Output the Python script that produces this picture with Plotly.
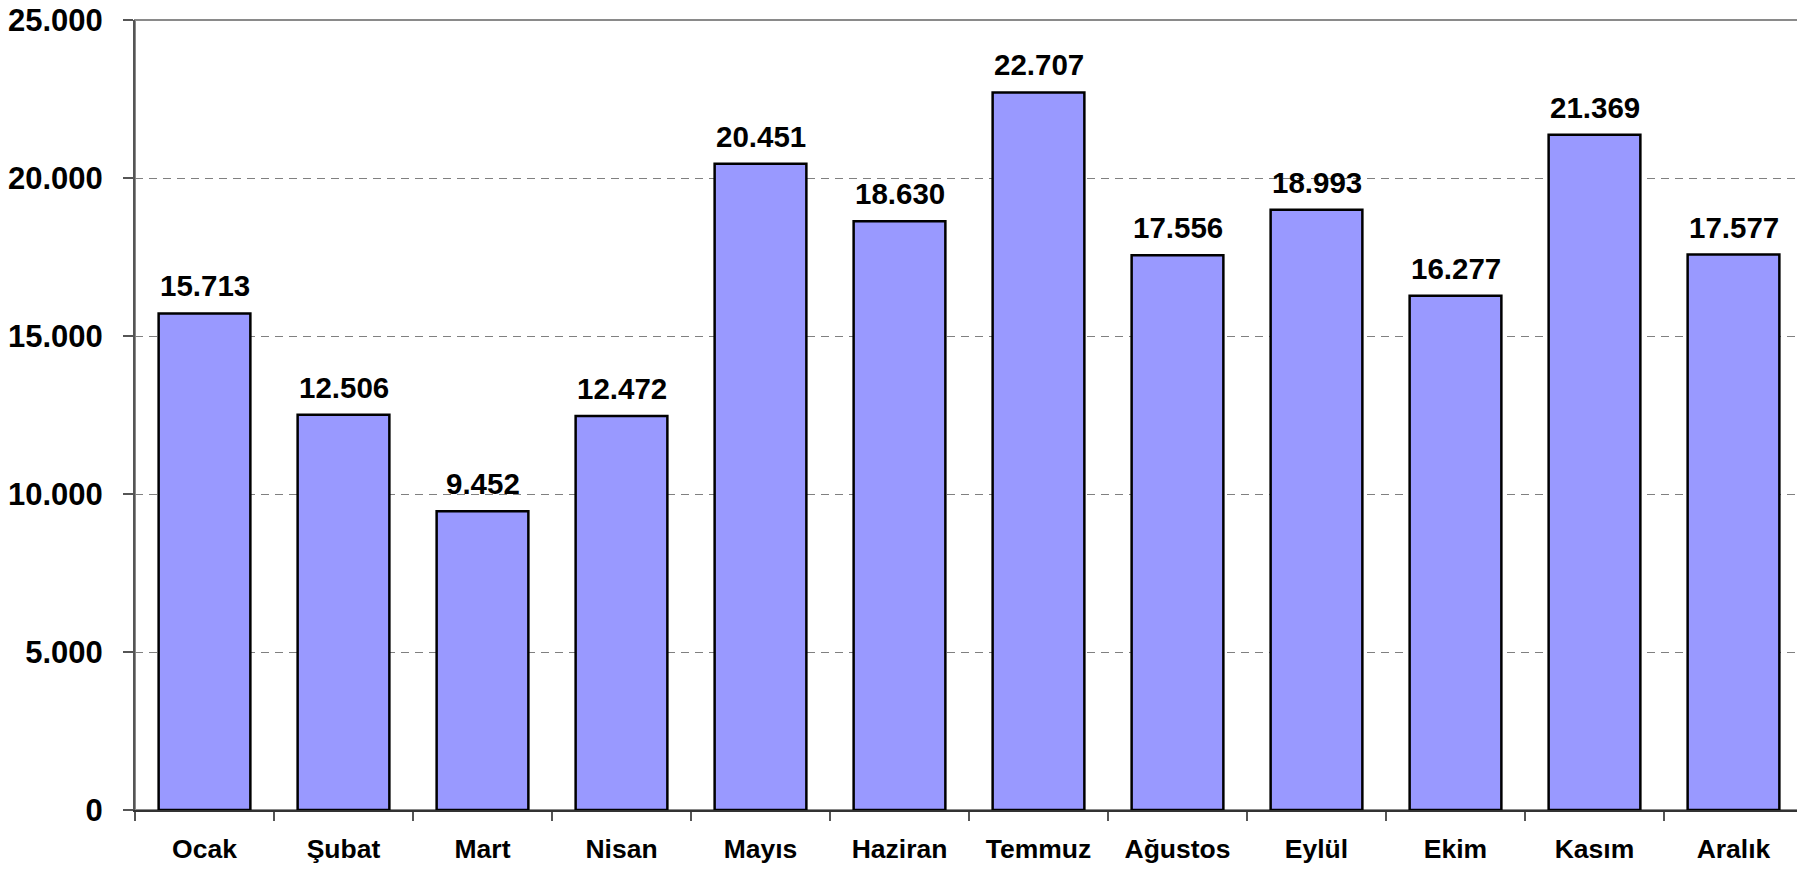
import plotly.graph_objects as go

months = ["Ocak", "Şubat", "Mart", "Nisan", "Mayıs", "Haziran", "Temmuz",
          "Ağustos", "Eylül", "Ekim", "Kasım", "Aralık"]
values = [15713, 12506, 9452, 12472, 20451, 18630, 22707,
          17556, 18993, 16277, 21369, 17577]
y_ticks = [0, 5000, 10000, 15000, 20000, 25000]

FONT = "Arial, 'Liberation Sans', sans-serif"

fig = go.Figure()
fig.add_trace(go.Bar(
    x=months, y=values,
    marker=dict(color="#9999FF", line=dict(color="#000000", width=2.5)),
    width=0.66,
    hoverinfo="x+y",
))

annotations = []
for m, v in zip(months, values):
    annotations.append(dict(
        x=m, y=v, xref="x", yref="y",
        text=f"{v:,}".replace(",", "."),
        showarrow=False, yanchor="bottom", yshift=9,
        font=dict(family=FONT, size=29.5, color="#000000", weight="bold"),
    ))

# page body has an 8px margin: figure is sized/positioned to compensate
fig.update_layout(
    width=1797, height=862,
    margin=dict(l=127, r=2, t=12, b=60),
    paper_bgcolor="white", plot_bgcolor="white",
    separators=",.",
    showlegend=False,
    bargap=0.34,
    annotations=annotations,
    shapes=[dict(type="rect", xref="paper", yref="paper", x0=0, y0=0, x1=1, y1=1,
                 line=dict(color="#8a8a8a", width=2), layer="below")],
    xaxis=dict(
        automargin=False,
        tickson="boundaries", ticks="outside", ticklen=9, tickcolor="#555555", tickwidth=1.5,
        showline=True, linecolor="#333333", linewidth=2,
        showgrid=False,
        tickfont=dict(family=FONT, size=26.5, color="#000000", weight="bold"),
        ticklabelstandoff=14,
        ticklabeloverflow="allow",
    ),
    yaxis=dict(
        automargin=False,
        range=[0, 25000], tickvals=y_ticks, tickformat=",d",
        ticks="outside", ticklen=10, tickcolor="#555555", tickwidth=1.5,
        showline=True, linecolor="#555555", linewidth=2,
        showgrid=True, gridcolor="#808080", gridwidth=1.2, griddash="8px,6px",
        zeroline=False,
        tickfont=dict(family=FONT, size=31, color="#000000", weight="bold"),
        ticklabelstandoff=14,
        ticklabeloverflow="allow",
    ),
)

fig.write_html("out.html")
